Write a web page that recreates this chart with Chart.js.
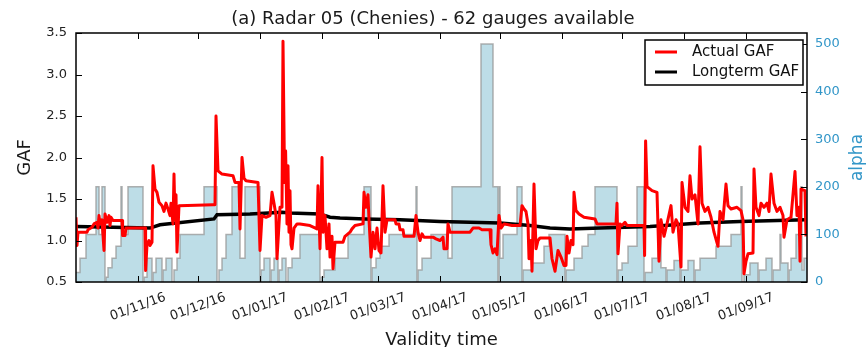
<!DOCTYPE html>
<html>
<head>
<meta charset="utf-8">
<script src="https://cdn.jsdelivr.net/npm/chart.js@4.4.1/dist/chart.umd.min.js"></script>
<style>
  html, body { margin: 0; padding: 0; background: #fff; }
  #wrap { width: 866px; height: 347px; }
</style>
</head>
<body>
<div id="wrap"><canvas id="gafChart" width="866" height="347"></canvas></div>
<script>
// x values are days counted from 01/10/2016
var monthTickDays = [31, 61, 92, 123, 151, 182, 212, 243, 273, 304, 335];
var monthTickLabels = ["01/11/16", "01/12/16", "01/01/17", "01/02/17", "01/03/17", "01/04/17",
                       "01/05/17", "01/06/17", "01/07/17", "01/08/17", "01/09/17"];

// Actual GAF (red)
var actualDays = [
  0, 0.5, 1, 5.5, 6, 8, 9, 10.5, 11, 11.5,
  12, 13, 14, 14.5, 15.5, 16.5, 17, 17.5, 18.5, 23,
  23.3, 24.5, 25, 34.5, 34.8, 35.5, 36.5, 37, 38, 38.5,
  39.5, 40.5, 41.5, 43, 44, 45, 46, 47, 47.5, 48.5,
  49, 49.5, 50, 50.5, 51.5, 68.5, 69.5, 70, 71, 73,
  78.5, 79.5, 81.5, 82, 83, 84, 85, 91, 92, 93,
  95, 97, 98, 99, 100, 100.5, 102, 103, 103.5, 104.3,
  104.8, 105.5, 106, 106.5, 107, 107.5, 108, 109, 110.5, 112,
  117, 120.5, 121, 121.5, 122, 122.5, 123, 123.5, 124.5, 125.5,
  126.5, 127, 128, 128.5, 129.5, 133.5, 134.5, 137, 138, 139.5,
  143.5, 144, 145, 146, 146.5, 147.5, 148.5, 149.5, 150.5, 151.5,
  152.5, 153.5, 154.5, 155.5, 159.5, 160, 161.5, 162, 163.5, 164,
  169, 170, 171, 172, 173, 174, 178.5, 180, 182, 183.5,
  184, 185.5, 186, 187, 197, 198.5, 201.5, 203, 207, 207.5,
  208.5, 209.5, 210.5, 211.5, 212.5, 214, 218, 222, 223, 224,
  225, 226, 226.5, 227.5, 228, 229, 230, 231, 232, 237,
  238, 239.5, 241, 242.5, 244, 245, 245.5, 246.5, 247.5, 248.5,
  249, 250, 251.5, 254, 259.5, 260.5, 270, 270.5, 271, 272,
  273, 274.5, 275.5, 284, 284.3, 284.8, 285.5, 288, 290.5, 291.5,
  292.5, 294, 295.5, 297.5, 298.5, 300, 301, 302.5, 303, 304.5,
  306, 307, 308, 309.5, 311, 312, 313, 314.5, 316, 317.5,
  319, 321, 322, 323.5, 325, 326, 327.5, 330.5, 332.5, 333.5,
  334, 335, 336, 338.5, 339, 340, 341.5, 342.5, 344, 345.5,
  346.5, 347.5, 349, 350.5, 352, 353.5, 354, 355.5, 357.5, 359.5,
  360.5, 361.5, 362, 362.5, 364.5, 365
];
var actualGaf = [
  1.28, 0.94, 1.10, 1.10, 1.13, 1.16, 1.20, 1.22, 1.15, 1.30,
  1.20, 1.25, 0.88, 1.32, 1.22, 1.30, 1.18, 1.28, 1.24, 1.24,
  1.06, 1.06, 1.15, 1.15, 0.64, 0.95, 1.00, 0.94, 0.98, 1.90,
  1.62, 1.58, 1.46, 1.42, 1.35, 1.45, 1.38, 1.30, 1.45, 1.20,
  1.80, 1.25, 1.55, 0.86, 1.42, 1.43, 1.43, 2.50, 1.84, 1.80,
  1.78, 1.70, 1.70, 1.14, 2.00, 1.75, 1.72, 1.70, 0.88, 1.30,
  1.28, 1.30, 1.58, 1.45, 1.30, 0.78, 1.40, 1.40, 3.40, 1.70,
  2.08, 1.20, 1.90, 1.10, 1.60, 0.95, 0.90, 1.15, 1.20, 1.20,
  1.18, 1.14, 1.66, 1.30, 0.90, 1.40, 2.00, 1.10, 1.30, 0.90,
  1.20, 0.80, 1.05, 0.66, 0.98, 0.98, 1.05, 1.10, 1.14, 1.18,
  1.20, 1.58, 1.40, 1.55, 1.25, 0.80, 1.10, 0.90, 1.15, 0.88,
  0.85, 1.66, 1.10, 1.25, 1.25, 1.20, 1.20, 1.13, 1.13, 1.05,
  1.05, 1.30, 1.10, 1.00, 1.08, 1.04, 1.04, 1.02, 1.00, 1.04,
  0.90, 0.90, 1.20, 1.10, 1.10, 1.15, 1.15, 1.13, 1.13, 0.95,
  0.85, 0.90, 0.83, 1.30, 1.15, 1.20, 1.18, 1.18, 1.42, 1.38,
  1.35, 1.20, 0.78, 1.00, 0.63, 1.68, 0.90, 1.00, 1.03, 1.03,
  0.78, 0.63, 0.88, 0.80, 0.70, 0.70, 1.05, 0.85, 1.00, 0.95,
  1.58, 1.36, 1.32, 1.28, 1.26, 1.20, 1.20, 1.45, 0.84, 1.20,
  1.18, 1.22, 1.18, 1.18, 0.82, 2.20, 1.65, 1.60, 1.58, 0.75,
  1.25, 1.05, 1.20, 1.42, 1.10, 1.25, 1.20, 0.68, 1.70, 1.40,
  1.35, 1.78, 1.50, 1.55, 1.20, 2.13, 1.45, 1.35, 1.40, 1.28,
  1.10, 0.93, 1.35, 1.25, 1.68, 1.42, 1.38, 1.40, 1.36, 1.25,
  0.60, 0.75, 0.84, 0.85, 1.86, 1.40, 1.30, 1.45, 1.40, 1.45,
  1.35, 1.80, 1.45, 1.35, 1.40, 1.30, 1.04, 1.25, 1.28, 1.83,
  1.30, 1.40, 0.75, 1.62, 1.60, 1.05
];

// Longterm GAF (black)
var longtermDays = [0, 37, 42, 69, 70.5, 87, 103, 107, 122, 127, 132, 144.5,
                    162, 182, 197, 212, 227, 237, 247, 262, 287, 312, 332, 365];
var longtermGaf = [1.17, 1.15, 1.19, 1.26, 1.31, 1.32, 1.34, 1.33, 1.32, 1.28, 1.27, 1.26,
                   1.25, 1.23, 1.22, 1.21, 1.18, 1.15, 1.14, 1.15, 1.17, 1.21, 1.23, 1.25];

// alpha (right axis, stepped)
var alphaDays = [
  0, 2, 5, 10, 11.5, 13, 14.5, 15, 16, 18,
  20, 22.5, 23, 26, 33.5, 34, 35.5, 38, 38.5, 40,
  43, 43.5, 45, 48, 49, 50.5, 52, 64, 70.5, 71.5,
  73, 75, 78, 82, 84.5, 92, 92.5, 94, 97, 97.5,
  99, 101, 101.5, 103, 105, 106, 108, 112, 122, 122.5,
  124, 129.5, 136, 144, 147.5, 148, 150, 152, 156.5, 170,
  170.5, 171, 173, 177.5, 186, 188, 202.5, 208.5, 211, 211.5,
  212, 213.5, 220.5, 223, 223.5, 228, 234, 236.5, 244.5, 245,
  249, 253, 256, 259.5, 270.5, 271, 273, 276, 280.5, 284,
  284.5, 288, 291, 292.5, 295, 295.5, 299, 302, 302.5, 306,
  309, 309.5, 312, 320, 327.5, 332.5, 333, 334, 337, 341,
  341.5, 345, 348, 348.5, 352, 352.5, 356, 356.5, 357.5, 360,
  362.5, 363, 364, 365.5
];
var alphaValues = [
  20, 50, 100, 200, 100, 200, 0, 10, 30, 50,
  75, 200, 100, 200, 0, 10, 50, 0, 20, 50,
  0, 25, 50, 0, 25, 50, 100, 200, 0, 25,
  50, 100, 200, 50, 200, 0, 25, 50, 0, 25,
  50, 0, 25, 50, 0, 30, 50, 100, 0, 10,
  25, 50, 100, 200, 0, 30, 50, 75, 100, 200,
  0, 25, 50, 100, 50, 200, 500, 200, 0, 200,
  50, 100, 200, 0, 25, 40, 75, 100, 0, 25,
  50, 75, 100, 200, 0, 25, 40, 75, 200, 0,
  20, 50, 100, 30, 0, 25, 45, 0, 25, 45,
  0, 25, 50, 75, 100, 200, 0, 15, 40, 0,
  25, 50, 0, 25, 100, 40, 0, 25, 50, 100,
  200, 25, 50, 50
];

var alphaColour = "#3296c8";
var font = "DejaVu Sans";

function toPoints(xs, ys) {
  return xs.map(function (x, i) { return { x: x, y: ys[i] }; });
}

// frame, inward tick marks, rotated date labels, alpha label and legend
var decorations = {
  id: "decorations",
  afterDatasetsDraw: function (chart) {
    var ctx = chart.ctx, a = chart.chartArea;
    var sx = chart.scales.x, sy = chart.scales.y, sy1 = chart.scales.y1;
    ctx.save();
    ctx.strokeStyle = "#000";
    ctx.lineWidth = 1;
    ctx.beginPath();
    sx.ticks.forEach(function (t) {
      var px = Math.round(sx.getPixelForValue(t.value)) + 0.5;
      ctx.moveTo(px, a.bottom); ctx.lineTo(px, a.bottom - 6);
      ctx.moveTo(px, a.top); ctx.lineTo(px, a.top + 6);
    });
    sy.ticks.forEach(function (t) {
      var py = Math.round(sy.getPixelForValue(t.value)) + 0.5;
      ctx.moveTo(a.left, py); ctx.lineTo(a.left + 6, py);
    });
    sy1.ticks.forEach(function (t) {
      var py = Math.round(sy1.getPixelForValue(t.value)) + 0.5;
      ctx.moveTo(a.right, py); ctx.lineTo(a.right - 6, py);
    });
    ctx.stroke();
    ctx.lineWidth = 1.5;
    ctx.strokeRect(a.left, a.top, a.right - a.left, a.bottom - a.top);
    ctx.restore();
  },
  afterDraw: function (chart) {
    var ctx = chart.ctx, a = chart.chartArea, sx = chart.scales.x;
    ctx.save();
    // date labels, centred on their ticks
    ctx.fillStyle = "#222";
    ctx.font = "13px '" + font + "'";
    ctx.textAlign = "center";
    ctx.textBaseline = "middle";
    sx.ticks.forEach(function (t, i) {
      var px = sx.getPixelForValue(t.value);
      ctx.save();
      ctx.translate(px, a.bottom + 25);
      ctx.rotate(-20 * Math.PI / 180);
      ctx.fillText(monthTickLabels[i], 0, 0);
      ctx.restore();
    });
    // right axis title
    ctx.save();
    ctx.fillStyle = alphaColour;
    ctx.font = "17px '" + font + "'";
    ctx.translate(858, (a.top + a.bottom) / 2);
    ctx.rotate(-Math.PI / 2);
    ctx.fillText("alpha", 0, 0);
    ctx.restore();
    // legend
    var lx = a.right - 162, ly = a.top + 7, lw = 158, lh = 45;
    ctx.fillStyle = "#fff";
    ctx.fillRect(lx, ly, lw, lh);
    ctx.strokeStyle = "#000";
    ctx.lineWidth = 1.5;
    ctx.strokeRect(lx, ly, lw, lh);
    ctx.font = "15px '" + font + "'";
    ctx.textAlign = "left";
    [0, 1].forEach(function (k) {
      var ds = chart.data.datasets[k];
      var yy = ly + 12 + k * 20;
      ctx.strokeStyle = ds.borderColor;
      ctx.lineWidth = 3;
      ctx.beginPath();
      ctx.moveTo(lx + 10, yy); ctx.lineTo(lx + 32, yy);
      ctx.stroke();
      ctx.fillStyle = "#111";
      ctx.fillText(ds.label, lx + 47, yy);
    });
    ctx.restore();
  }
};

Chart.defaults.font.family = font;

new Chart(document.getElementById("gafChart"), {
  type: "line",
  data: {
    datasets: [
      {
        label: "Actual GAF",
        data: toPoints(actualDays, actualGaf),
        borderColor: "#ff0000",
        borderWidth: 3,
        borderJoinStyle: "round",
        pointRadius: 0,
        yAxisID: "y",
        order: 0
      },
      {
        label: "Longterm GAF",
        data: toPoints(longtermDays, longtermGaf),
        borderColor: "#000000",
        borderWidth: 3.5,
        pointRadius: 0,
        yAxisID: "y",
        order: 1
      },
      {
        label: "alpha",
        data: toPoints(alphaDays, alphaValues),
        borderColor: "rgba(150,150,150,0.75)",
        backgroundColor: "#bddde7",
        borderWidth: 1.5,
        stepped: true,
        fill: "origin",
        pointRadius: 0,
        yAxisID: "y1",
        order: 2
      }
    ]
  },
  options: {
    responsive: false,
    animation: false,
    devicePixelRatio: 1,
    layout: { padding: 0 },
    plugins: {
      legend: { display: false },
      tooltip: { enabled: false },
      title: {
        display: true,
        text: "(a) Radar 05 (Chenies) - 62 gauges available",
        color: "#1a1a1a",
        font: { size: 18, weight: "normal", lineHeight: 1.2 },
        padding: { top: 9, bottom: 2.4 }
      }
    },
    scales: {
      x: {
        type: "linear",
        min: 0,
        max: 365.5,
        grid: { display: false, drawTicks: false },
        border: { display: false },
        ticks: { display: false },
        afterBuildTicks: function (scale) {
          scale.ticks = monthTickDays.map(function (d) { return { value: d }; });
        },
        afterFit: function (scale) { scale.height = 65; },
        title: {
          display: true,
          text: "Validity time",
          color: "#1a1a1a",
          font: { size: 18, lineHeight: 1 },
          padding: { top: 0, bottom: -2 }
        }
      },
      y: {
        position: "left",
        min: 0.5,
        max: 3.5,
        grid: { display: false, drawTicks: false },
        border: { display: false },
        ticks: {
          stepSize: 0.5,
          padding: 9,
          color: "#222",
          font: { size: 13 },
          callback: function (v) { return v.toFixed(1); }
        },
        afterFit: function (scale) { scale.width = 76; },
        title: {
          display: true,
          text: "GAF",
          color: "#1a1a1a",
          font: { size: 18, lineHeight: 1.2 },
          padding: { top: 15, bottom: 0 }
        }
      },
      y1: {
        position: "right",
        min: 0,
        max: 523,
        grid: { display: false, drawTicks: false },
        border: { display: false },
        ticks: {
          stepSize: 100,
          includeBounds: false,
          padding: 8,
          color: alphaColour,
          font: { size: 13 }
        },
        afterFit: function (scale) { scale.width = 59; }
      }
    }
  },
  plugins: [decorations]
});
</script>
</body>
</html>
